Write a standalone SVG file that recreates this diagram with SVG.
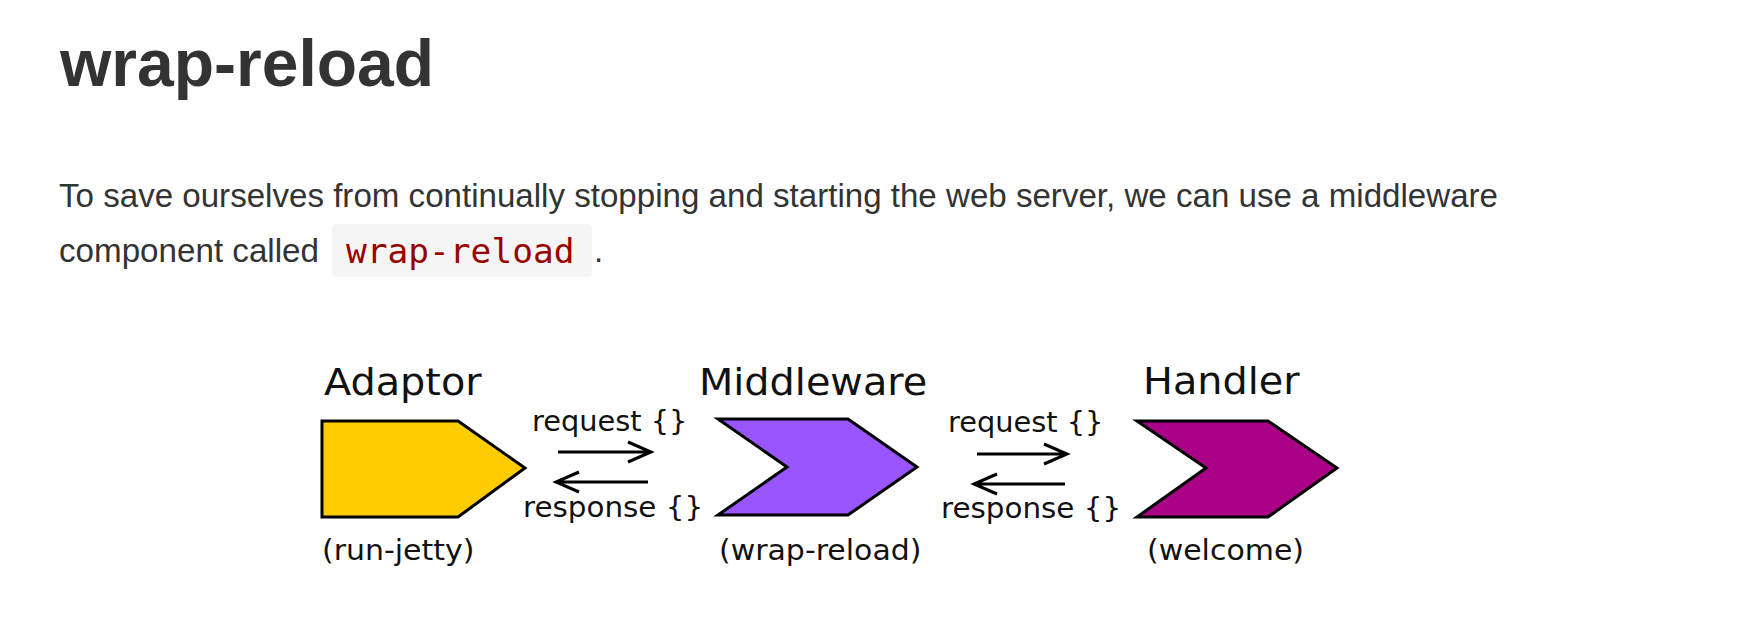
<svg xmlns="http://www.w3.org/2000/svg" width="1740" height="622" viewBox="0 0 1740 622">
  <style>
    .title { font-family: "Liberation Sans", Arial, sans-serif; font-weight: bold; font-size: 66px; fill: #333333; }
    .body { font-family: "Liberation Sans", Arial, sans-serif; font-size: 33px; fill: #333333; }
    .code { font-family: "DejaVu Sans Mono", "Liberation Mono", monospace; font-size: 34.5px; fill: #990000; }
    .name { font-family: "DejaVu Sans", sans-serif; font-size: 37px; fill: #111111; }
    .sub { font-family: "DejaVu Sans", sans-serif; font-size: 27.5px; fill: #111111; }
    .lbl { font-family: "DejaVu Sans", sans-serif; font-size: 28px; fill: #111111; }
    .shape { stroke: #000000; stroke-width: 3; stroke-linejoin: miter; }
    .arrow { fill: none; stroke: #000000; stroke-width: 3; stroke-linecap: butt; stroke-linejoin: miter; }
  </style>
  <rect width="1740" height="622" fill="#ffffff"/>

  <text class="title" x="60" y="86">wrap-reload</text>
  <text class="body" x="59" y="207" textLength="1439" lengthAdjust="spacingAndGlyphs">To save ourselves from continually stopping and starting the web server, we can use a middleware</text>
  <text class="body" x="59" y="262" textLength="260" lengthAdjust="spacingAndGlyphs">component called</text>
  <rect x="332" y="224" width="260" height="53" rx="5" ry="5" fill="#f5f5f5"/>
  <text class="code" x="346" y="263">wrap-reload</text>
  <text class="body" x="594" y="262">.</text>

  <g id="adaptor">
    <text class="name" transform="translate(324 395) scale(1.075 1)">Adaptor</text>
    <polygon class="shape" fill="#ffcc00" points="322,421 458,421 525,468 458,517 322,517"/>
    <text class="sub" transform="translate(322 560) scale(1.09 1)">(run-jetty)</text>
  </g>

  <g id="middleware">
    <text class="name" transform="translate(699 395) scale(1.075 1)">Middleware</text>
    <polygon class="shape" fill="#9955ff" points="718,419 848,419 917,467 848,515 718,515 787,467"/>
    <text class="sub" transform="translate(719 560) scale(1.09 1)">(wrap-reload)</text>
  </g>

  <g id="handler">
    <text class="name" transform="translate(1143 394) scale(1.075 1)">Handler</text>
    <polygon class="shape" fill="#aa0088" points="1137,421 1268,421 1337,468 1268,517 1137,517 1206,468"/>
    <text class="sub" transform="translate(1147 560) scale(1.09 1)">(welcome)</text>
  </g>

  <g id="connectors">
    <text class="lbl" transform="translate(532 431) scale(1.03 1)">request {}</text>
    <path class="arrow" d="M558,452 H650 M628,442 L651,452 L628,462"/>
    <path class="arrow" d="M648,482 H557 M579,472 L556,482 L579,492"/>
    <text class="lbl" transform="translate(523 517) scale(1.05 1)">response {}</text>

    <text class="lbl" transform="translate(948 432) scale(1.03 1)">request {}</text>
    <path class="arrow" d="M977,454 H1066 M1044,444 L1067,454 L1044,464"/>
    <path class="arrow" d="M1065,484 H975 M997,474 L974,484 L997,494"/>
    <text class="lbl" transform="translate(941 518) scale(1.05 1)">response {}</text>
  </g>
</svg>
